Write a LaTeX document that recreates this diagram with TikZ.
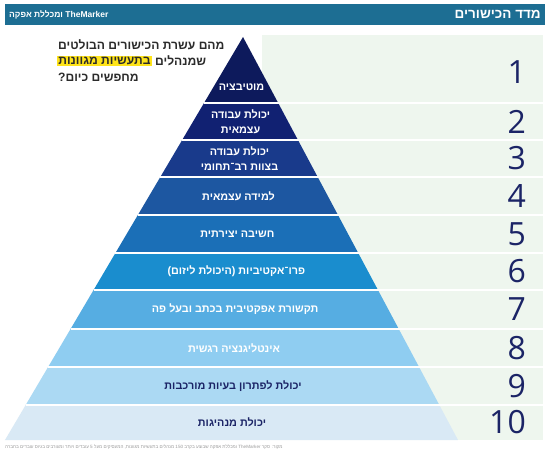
\documentclass[tikz,border=0pt]{standalone}
\usepackage{fontspec}
\newfontfamily\heb[Script=Hebrew]{Liberation Sans}
\newfontfamily\numfont{Open Sans}
\TeXXeTstate=1
\newcommand\rtl[1]{\beginR#1\endR}
\definecolor{hdr}{HTML}{1D6E93}
\definecolor{panel}{HTML}{EEF6EE}
\definecolor{navy}{HTML}{1B2466}
\definecolor{cA}{HTML}{0D1A5C}
\definecolor{cB}{HTML}{112172}
\definecolor{cC}{HTML}{193A8B}
\definecolor{cD}{HTML}{1D57A1}
\definecolor{cE}{HTML}{1B6FB7}
\definecolor{cF}{HTML}{1A8DCE}
\definecolor{cG}{HTML}{56ADE2}
\definecolor{cH}{HTML}{8FCDF1}
\definecolor{cI}{HTML}{ABD9F3}
\definecolor{cJ}{HTML}{D9E9F5}
\definecolor{hly}{HTML}{FFE419}
\definecolor{qtext}{HTML}{2B2B2B}
\definecolor{notegray}{HTML}{9A9A9A}
\begin{document}
\begin{tikzpicture}[x=1pt,y=-1pt,
  lbl/.style={font=\heb\bfseries\fontsize{10.8}{15}\selectfont, text=white, align=center, inner sep=0pt},
  lbldark/.style={lbl, text=navy},
  numlbl/.style={font=\numfont\fontsize{32}{32}\selectfont, text=navy, anchor=east, inner sep=0pt},
  qline/.style={font=\heb\bfseries\fontsize{12.1}{14}\selectfont, text=qtext, anchor=west, inner sep=0pt},
  sepline/.style={white, line width=2pt}]
\useasboundingbox (0,0) rectangle (550,460);
\fill[white] (0,0) rectangle (550,460);
% header
\fill[hdr] (5,4) rectangle (545,25);
\node[anchor=east, text=white, inner sep=0pt, font=\heb\bfseries\fontsize{13.5}{14}\selectfont] (title) at (541,14.5) {\rtl{מדד הכישורים}};
\node[anchor=west, text=white, inner sep=0pt, font=\heb\bfseries\fontsize{8.5}{9}\selectfont] (brand) at (9,15) {\rtl{TheMarker ומכללת אפקה}};
% panel
\fill[panel] (262,35) rectangle (543,440);
% pyramid rows
\foreach \ya/\yb/\col in {37/103/cA, 103/140/cB, 140/177/cC, 177/215/cD, 215/253/cE, 253/290/cF, 290/329/cG, 329/367/cH, 367/405/cI, 405/440/cJ}{
  \pgfmathsetmacro\xla{243-(\ya-37)*0.590571}
  \pgfmathsetmacro\xra{243+(\ya-37)*0.533499}
  \pgfmathsetmacro\xlb{243-(\yb-37)*0.590571}
  \pgfmathsetmacro\xrb{243+(\yb-37)*0.533499}
  \fill[\col] (\xla,\ya) -- (\xra,\ya) -- (\xrb,\yb) -- (\xlb,\yb) -- cycle;
}
% separators
\foreach \y in {103,140,177,215,253,290,329,367,405}{
  \pgfmathsetmacro\xl{243-(\y-37)*0.590571}
  \draw[sepline] (\xl,\y) -- (543,\y);
}
% labels
\node[lbl] (l1) at (241.6,87) {\rtl{מוטיבציה}};
\node[lbl] (l2) at (240.6,121.5) {\rtl{יכולת עבודה}\\\rtl{עצמאית}};
\node[lbl] (l3) at (239.5,158.5) {\rtl{יכולת עבודה}\\\rtl{בצוות רב־תחומי}};
\node[lbl] (l4) at (238.5,196) {\rtl{למידה עצמאית}};
\node[lbl] (l5) at (237.4,234) {\rtl{חשיבה יצירתית}};
\node[lbl] (l6) at (236.3,271.5) {\rtl{פרו־אקטיביות (היכולת ליזום)}};
\node[lbl] (l7) at (235.2,309.5) {\rtl{תקשורת אפקטיבית בכתב ובעל פה}};
\node[lbl] (l8) at (234.1,348) {\rtl{אינטליגנציה רגשית}};
\node[lbldark] (l9) at (233.0,386) {\rtl{יכולת לפתרון בעיות מורכבות}};
\node[lbldark] (l10) at (232.0,422.5) {\rtl{יכולת מנהיגות}};
% numbers
\node[numlbl] (n1) at (526,72) {1};
\node[numlbl] (n2) at (526,121.5) {2};
\node[numlbl] (n3) at (526,158.5) {3};
\node[numlbl] (n4) at (526,196) {4};
\node[numlbl] (n5) at (526,234) {5};
\node[numlbl] (n6) at (526,271.5) {6};
\node[numlbl] (n7) at (526,309.5) {7};
\node[numlbl] (n8) at (526,348) {8};
\node[numlbl] (n9) at (526,386) {9};
\node[numlbl] (n10) at (526,422.5) {10};
% question
\node[qline] (q1) at (58,45) {\rtl{מהם עשרת הכישורים הבולטים}};
\node[qline, fill=hly, inner sep=1.2pt] (q2h) at (57,61) {\rtl{בתעשיות מגוונות}};
\node[qline, xshift=3pt] (q2w) at (q2h.east) {\rtl{שמנהלים}};
\node[qline] (q3) at (58,77) {\rtl{מחפשים כיום?}};
% source note
\node[anchor=west, inner sep=0pt, text=notegray, font=\heb\fontsize{4.6}{5}\selectfont] (note) at (5,447) {\rtl{מקור: סקר TheMarker ומכללת אפקה שבוצע בקרב 150 מנהלים בתעשיות מגוונות, המעסיקים מעל 5 עובדים ויותר ומעורבים בגיוס עובדים בחברה}};
\end{tikzpicture}
\end{document}
